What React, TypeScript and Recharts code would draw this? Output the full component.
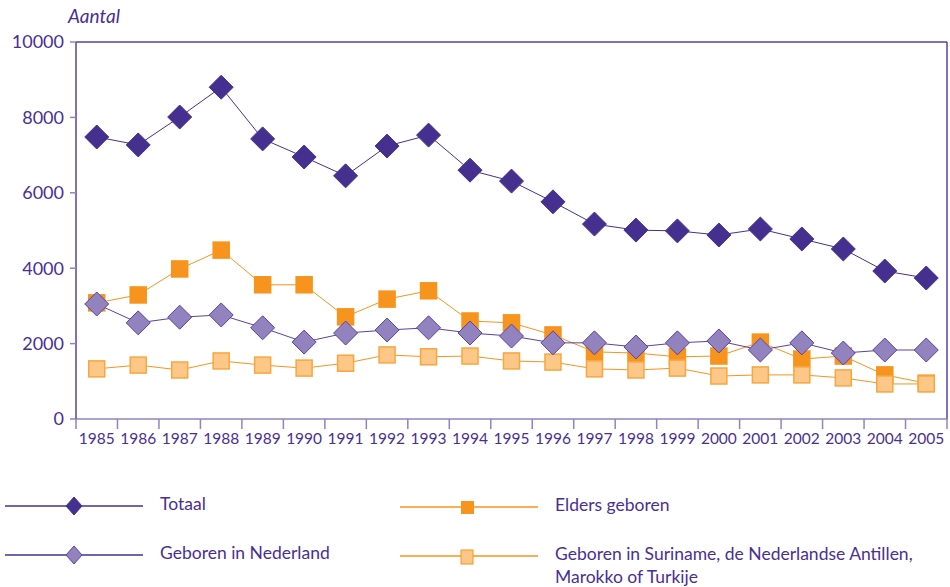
import React from "react";
import { LineChart, Line, XAxis, YAxis, ReferenceLine } from "recharts";

const years = [1985, 1986, 1987, 1988, 1989, 1990, 1991, 1992, 1993, 1994, 1995, 1996, 1997, 1998, 1999, 2000, 2001, 2002, 2003, 2004, 2005];
const totaal = [7480, 7270, 8010, 8800, 7430, 6950, 6450, 7240, 7530, 6600, 6310, 5760, 5170, 5010, 4990, 4880, 5040, 4775, 4510, 3925, 3740];
const geborenNL = [3050, 2550, 2700, 2760, 2420, 2040, 2280, 2360, 2420, 2280, 2200, 2020, 2020, 1910, 2020, 2070, 1830, 2020, 1750, 1830, 1830];
const elders = [3080, 3290, 3980, 4480, 3560, 3560, 2710, 3180, 3400, 2600, 2550, 2230, 1780, 1750, 1650, 1670, 2040, 1590, 1670, 1170, 950];
const surinameEtc = [1330, 1430, 1300, 1540, 1430, 1350, 1480, 1700, 1650, 1670, 1540, 1510, 1330, 1300, 1350, 1140, 1170, 1170, 1090, 930, 930];
const yTicks = [0, 2000, 4000, 6000, 8000, 10000];

const seriesNames = {
  totaal: "Totaal",
  geborenNL: "Geboren in Nederland",
  elders: "Elders geboren",
  suriname: "Geboren in Suriname, de Nederlandse Antillen,",
  suriname2: "Marokko of Turkije",
};

const data = years.map((y, i) => ({
  year: y,
  totaal: totaal[i],
  geborenNL: geborenNL[i],
  elders: elders[i],
  suriname: surinameEtc[i],
}));

const TXT = "#4A2F92";
const DARK = "#46308F";
const LIGHTP = "#9283BE";
const LIGHTP_S = "#5A42A0";
const ORANGE = "#F7941D";
const LORANGE = "#FDC787";
const FONT = "Lato, 'Open Sans', sans-serif";

const Diamond = (fill: string, stroke: string, r: number) => (props: any) => {
  const { cx, cy, index } = props;
  if (cx == null || cy == null) return null;
  return (
    <polygon
      key={"d" + index}
      points={`${cx},${cy - r} ${cx + r},${cy} ${cx},${cy + r} ${cx - r},${cy}`}
      fill={fill}
      stroke={stroke}
      strokeWidth={1}
    />
  );
};

const Square = (fill: string, stroke: string, s: number) => (props: any) => {
  const { cx, cy, index } = props;
  if (cx == null || cy == null) return null;
  return (
    <rect key={"s" + index} x={cx - s / 2} y={cy - s / 2} width={s} height={s} fill={fill} stroke={stroke} strokeWidth={1.5} />
  );
};

const XTick = (props: any) => {
  const { x, y, payload, width, index } = props;
  const half = width / years.length / 2;
  return (
    <g>
      <line x1={x - half} x2={x - half} y1={y - 8} y2={y + 2} stroke={LIGHTP} strokeWidth={1.5} />
      {index === years.length - 1 && (
        <line x1={x + half} x2={x + half} y1={y - 8} y2={y + 2} stroke={LIGHTP} strokeWidth={1.5} />
      )}
      <text x={x} y={y + 17} textAnchor="middle" fill={TXT} fontSize={15.5} fontFamily={FONT}>
        {payload.value}
      </text>
    </g>
  );
};

const LegendBlock = () => {
  const row = (x: number, y: number, color: string, marker: React.ReactNode, label: React.ReactNode) => (
    <g>
      <line x1={x} x2={x + 138} y1={y} y2={y} stroke={color} strokeWidth={1.5} />
      {marker}
      <text x={x + 155} y={y + 4} fill={TXT} fontSize={17.5} fontFamily={FONT}>
        {label}
      </text>
    </g>
  );
  return (
    <svg width={950} height={107} style={{ position: "absolute", left: 0, top: 480 }}>
      {row(5, 26, DARK, <polygon points={`74,17 82,26 74,35 66,26`} fill={DARK} stroke={DARK} />, seriesNames.totaal)}
      {row(5, 75, DARK, <polygon points={`74,66 82,75 74,84 66,75`} fill={LIGHTP} stroke={LIGHTP_S} />, seriesNames.geborenNL)}
      {row(400, 27, ORANGE, <rect x={461} y={21} width={13} height={13} fill={ORANGE} />, seriesNames.elders)}
      {row(
        400,
        76,
        ORANGE,
        <rect x={461} y={70} width={12} height={14} fill={LORANGE} stroke={ORANGE} />,
        <>
          <tspan x={555} dy={0}>{seriesNames.suriname}</tspan>
          <tspan x={555} dy={23}>{seriesNames.suriname2}</tspan>
        </>
      )}
    </svg>
  );
};

export default function App() {
  return (
    <div style={{ position: "absolute", left: 0, top: 0, width: 950, height: 587, background: "#fff" }}>
      <LineChart width={950} height={587} data={data} margin={{ top: 42, right: 3, left: 6, bottom: 138 }}>
        <XAxis
          dataKey="year"
          type="number"
          domain={[1984.5, 2005.5]}
          ticks={years}
          interval={0}
          tickLine={false}
          axisLine={{ stroke: LIGHTP, strokeWidth: 1.5 }}
          height={30}
          tick={<XTick />}
        />
        <YAxis
          domain={[0, 10000]}
          ticks={yTicks}
          width={70}
          tickSize={6}
          tickMargin={6}
          tickLine={{ stroke: LIGHTP, strokeWidth: 1.5 }}
          axisLine={{ stroke: LIGHTP_S, strokeWidth: 1.5 }}
          tick={{ fill: TXT, fontSize: 18, fontFamily: FONT }}
        />
        <ReferenceLine y={10000} stroke={LIGHTP_S} strokeWidth={1.5} />
        <ReferenceLine x={2005.5} stroke={LIGHTP_S} strokeWidth={1.5} />
        <Line dataKey="elders" stroke={ORANGE} strokeWidth={1} dot={Square(ORANGE, ORANGE, 16)} isAnimationActive={false} />
        <Line dataKey="suriname" stroke={ORANGE} strokeWidth={1} dot={Square(LORANGE, "#F8A640", 16)} isAnimationActive={false} />
        <Line dataKey="geborenNL" stroke={LIGHTP_S} strokeWidth={1} dot={Diamond(LIGHTP, LIGHTP_S, 12)} isAnimationActive={false} />
        <Line dataKey="totaal" stroke={DARK} strokeWidth={1} dot={Diamond(DARK, DARK, 12)} isAnimationActive={false} />
      </LineChart>
      <LegendBlock />
      <div style={{ position: "absolute", left: 68, top: 4, color: TXT, fontFamily: FONT, fontStyle: "italic", fontSize: 19 }}>Aantal</div>
    </div>
  );
}
